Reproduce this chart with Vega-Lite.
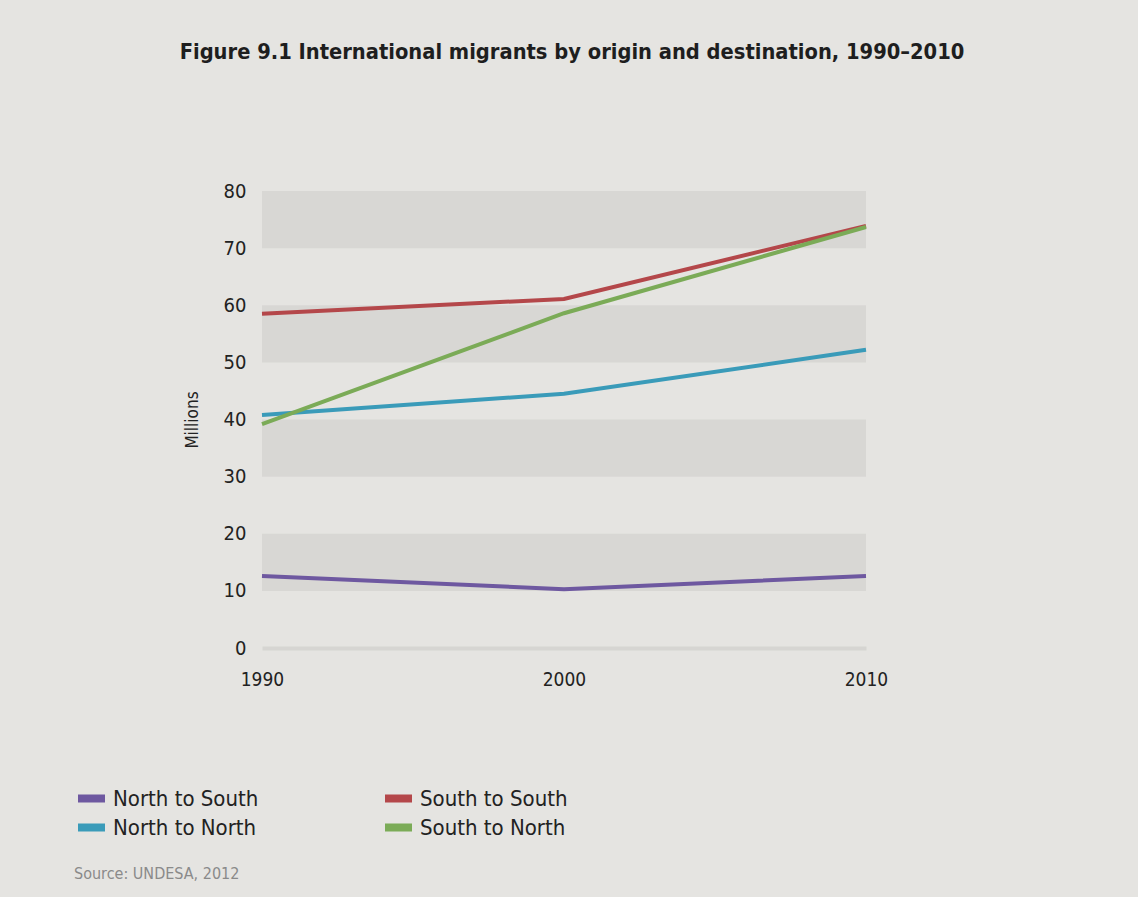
{
  "$schema": "https://vega.github.io/schema/vega-lite/v6.json",
  "width": 604,
  "height": 457,
  "autosize": "none",
  "padding": {"left": 262, "top": 191, "right": 272, "bottom": 249},
  "background": "#e5e4e1",
  "config": {
    "view": {"stroke": null},
    "font": "DejaVu Sans Condensed, Liberation Sans, sans-serif"
  },
  "title": {
    "text": "Figure 9.1 International migrants by origin and destination, 1990–2010",
    "font": "DejaVu Sans Condensed, Liberation Sans, sans-serif",
    "fontSize": 21.7,
    "fontWeight": "bold",
    "color": "#1e1e1e",
    "anchor": "middle",
    "dx": 8,
    "offset": 117
  },
  "datasets": {
    "bands": [
      {"lo": 70, "hi": 80},
      {"lo": 50, "hi": 60},
      {"lo": 30, "hi": 40},
      {"lo": 10, "hi": 20}
    ],
    "series": [
      {"year": 1990, "flow": "North to South", "value": 12.6},
      {"year": 2000, "flow": "North to South", "value": 10.3},
      {"year": 2010, "flow": "North to South", "value": 12.6},
      {"year": 1990, "flow": "South to South", "value": 58.5},
      {"year": 2000, "flow": "South to South", "value": 61.1},
      {"year": 2010, "flow": "South to South", "value": 73.9},
      {"year": 1990, "flow": "North to North", "value": 40.8},
      {"year": 2000, "flow": "North to North", "value": 44.5},
      {"year": 2010, "flow": "North to North", "value": 52.2},
      {"year": 1990, "flow": "South to North", "value": 39.2},
      {"year": 2000, "flow": "South to North", "value": 58.6},
      {"year": 2010, "flow": "South to North", "value": 73.7}
    ]
  },
  "layer": [
    {
      "data": {"name": "bands"},
      "mark": {"type": "rect", "color": "#d8d7d4"},
      "encoding": {
        "y": {"field": "lo", "type": "quantitative", "scale": {"domain": [0, 80], "nice": false}},
        "y2": {"field": "hi"},
        "x": {"datum": 1990, "type": "quantitative", "scale": {"domain": [1990, 2010], "nice": false, "zero": false}},
        "x2": {"datum": 2010}
      }
    },
    {
      "data": {"name": "series"},
      "mark": {"type": "line", "strokeWidth": 4, "strokeCap": "butt"},
      "encoding": {
        "x": {
          "field": "year",
          "type": "quantitative",
          "scale": {"domain": [1990, 2010], "nice": false, "zero": false},
          "axis": {
            "values": [1990, 2000, 2010],
            "format": "d",
            "title": null,
            "grid": false,
            "ticks": false,
            "domainColor": "#d6d5d2",
            "domainWidth": 4,
            "labelFlush": false,
            "labelFontSize": 19,
            "labelColor": "#222222",
            "labelPadding": 22
          }
        },
        "y": {
          "field": "value",
          "type": "quantitative",
          "scale": {"domain": [0, 80], "nice": false},
          "axis": {
            "values": [0, 10, 20, 30, 40, 50, 60, 70, 80],
            "title": "Millions",
            "titleFontSize": 17,
            "titleFontWeight": "normal",
            "titleColor": "#222222",
            "titlePadding": 22,
            "grid": false,
            "ticks": false,
            "domain": false,
            "labelFontSize": 20,
            "labelColor": "#222222",
            "labelPadding": 16
          }
        },
        "color": {
          "field": "flow",
          "type": "nominal",
          "scale": {
            "domain": ["North to South", "South to South", "North to North", "South to North"],
            "range": ["#6e58a0", "#b4474a", "#3a9bb9", "#7bab57"]
          },
          "legend": {
            "orient": "none",
            "legendX": -188,
            "legendY": 595,
            "direction": "horizontal",
            "columns": 2,
            "columnPadding": 122,
            "rowPadding": 4,
            "clipHeight": 25,
            "symbolType": "stroke",
            "symbolSize": 729,
            "symbolStrokeWidth": 8,
            "labelFontSize": 22,
            "labelColor": "#222222",
            "labelOffset": 4,
            "labelLimit": 400,
            "title": "Source: UNDESA, 2012",
            "titleOrient": "bottom",
            "titleAnchor": "start",
            "titleFontSize": 16,
            "titleFontWeight": "normal",
            "titleColor": "#8a8a8a",
            "titlePadding": 26
          }
        }
      }
    }
  ]
}
